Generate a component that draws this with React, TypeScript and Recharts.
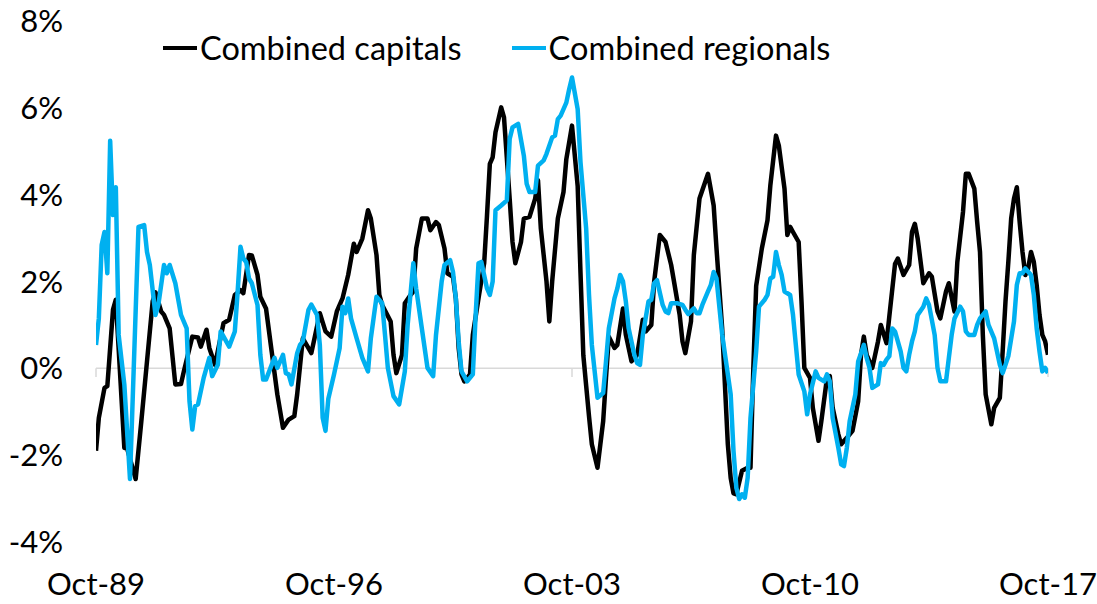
import React from 'react';
import { LineChart, Line, XAxis, YAxis, ReferenceLine } from 'recharts';

const BLACK = '#000000';
const BLUE = '#00B0F0';
const FONT = 'Lato, "Noto Sans", sans-serif';

// month index from Oct-89 (0) to Oct-17 (336), value in %
const CAPITALS: [number, number][] = [
  [0, -1.9], [1, -1.14], [3, -0.45], [4, -0.41], [6, 1.35], [7, 1.58], [10, -1.83], [11, -1.85],
  [14, -2.55], [16, -1.22], [18, 0.16], [20, 1.54], [21, 1.75], [23, 1.31], [24, 1.23], [26, 0.92],
  [28, -0.37], [30, -0.36], [31, -0.07], [34, 0.73], [36, 0.71], [37, 0.5], [39, 0.89], [40, 0.47],
  [42, 0.08], [45, 1.04], [47, 1.12], [49, 1.69], [51, 1.8], [52, 1.73], [54, 2.61], [55, 2.6],
  [57, 2.15], [58, 1.65], [60, 1.38], [62, 0.39], [64, -0.6], [66, -1.37], [68, -1.18], [70, -1.1],
  [71, -0.6], [73, 0.69], [76, 0.35], [79, 1.27], [81, 0.85], [83, 0.73], [85, 1.31], [87, 1.61],
  [89, 2.15], [91, 2.87], [92, 2.68], [94, 2.99], [96, 3.64], [97, 3.45], [99, 2.61], [100, 1.69],
  [101, 1.46], [104, 1.08], [105, 0.31], [106, -0.11], [108, 0.31], [109, 1.5], [111, 1.69], [112, 1.77],
  [113, 2.76], [115, 3.45], [117, 3.45], [118, 3.18], [120, 3.37], [121, 3.3], [123, 2.76], [124, 2.19],
  [126, 2.11], [127, 1.61], [128, 0.47], [129, -0.14], [130, -0.3], [132, -0.14], [133, 0.77], [135, 1.61],
  [137, 2.42], [138, 3.52], [139, 4.71], [140, 4.86], [141, 5.44], [143, 6.01], [144, 5.78], [146, 3.91],
  [147, 2.91], [148, 2.42], [150, 2.91], [151, 3.45], [153, 3.49], [155, 3.91], [156, 4.33], [157, 3.22],
  [159, 2.0], [160, 1.08], [161, 2.0], [163, 3.45], [165, 4.06], [166, 4.82], [168, 5.59], [170, 4.2],
  [171, 2.2], [172, 0.3], [173, -0.4], [174, -1.1], [175, -1.75], [177, -2.29], [179, -1.22], [180, -0.22],
  [181, 0.73], [183, 0.47], [184, 0.54], [186, 1.38], [187, 0.77], [189, 0.16], [191, 0.31], [193, 1.12],
  [194, 0.85], [196, 1.0], [197, 2.0], [199, 3.07], [201, 2.91], [203, 2.38], [204, 2.0], [206, 1.23],
  [207, 0.62], [208, 0.35], [210, 1.08], [211, 2.61], [213, 3.91], [215, 4.29], [216, 4.48], [218, 3.75],
  [219, 2.76], [221, 0.92], [223, -1.75], [224, -2.52], [225, -2.88], [226, -2.9], [228, -2.36], [230, -2.29],
  [231, -2.29], [232, 0.01], [233, 1.9], [235, 2.76], [237, 3.41], [238, 4.21], [240, 5.36], [241, 5.13],
  [243, 4.14], [244, 3.07], [245, 3.26], [246, 3.14], [248, 2.91], [249, 1.54], [250, 0.01], [252, -0.22],
  [253, -0.91], [255, -1.67], [256, -1.22], [258, -0.22], [259, -0.18], [260, -0.91], [262, -1.52], [263, -1.75],
  [265, -1.6], [267, -1.44], [269, -0.76], [270, 0.31], [271, 0.73], [272, 0.31], [274, 0.01], [276, 0.62],
  [277, 1.0], [279, 0.58], [280, 1.2], [282, 2.4], [283, 2.53], [285, 2.15], [287, 2.38], [288, 3.14],
  [289, 3.33], [290, 2.99], [292, 1.96], [294, 2.19], [295, 2.11], [297, 1.31], [298, 1.15], [300, 1.77],
  [301, 1.96], [303, 1.31], [304, 2.45], [306, 3.6], [307, 4.48], [308, 4.48], [310, 4.14], [311, 3.37],
  [312, 2.68], [313, 0.77], [314, -0.6], [316, -1.29], [317, -0.91], [319, -0.68], [320, 0.39], [321, 1.54],
  [322, 2.45], [323, 3.45], [324, 3.91], [325, 4.17], [326, 3.37], [327, 2.68], [328, 2.15], [329, 2.3],
  [330, 2.68], [331, 2.45], [332, 1.92], [333, 1.23], [334, 0.77], [335, 0.62], [336, 0.31],
];

const REGIONALS: [number, number][] = [
  [0, 0.54], [1, 1.15], [2, 2.84], [3, 3.14], [4, 2.19], [5, 5.24], [6, 3.53], [7, 4.17],
  [8, 0.77], [10, -0.37], [12, -2.55], [15, 3.26], [17, 3.3], [18, 2.68], [19, 2.38], [21, 1.23],
  [22, 1.46], [24, 2.38], [25, 2.19], [26, 2.38], [28, 1.96], [30, 1.23], [32, 0.92], [33, -0.76],
  [34, -1.41], [35, -0.87], [36, -0.83], [38, -0.22], [40, 0.24], [41, -0.18], [43, 0.08], [44, 0.85],
  [47, 0.5], [49, 0.85], [50, 1.77], [51, 2.8], [52, 2.53], [53, 2.45], [54, 2.07], [55, 1.96],
  [57, 1.46], [58, 0.31], [59, -0.26], [60, -0.26], [62, 0.08], [63, 0.24], [64, 0.01], [66, 0.31],
  [67, -0.11], [68, -0.14], [69, -0.37], [71, 0.35], [72, 0.54], [73, 0.62], [75, 1.35], [76, 1.47],
  [78, 1.23], [79, 0.54], [80, -1.14], [81, -1.44], [82, -0.7], [84, -0.14], [86, 0.47], [87, 1.42],
  [88, 1.27], [89, 1.61], [90, 1.15], [92, 0.69], [94, 0.24], [96, -0.07], [97, 0.69], [99, 1.65],
  [101, 1.5], [102, 0.77], [103, 0.01], [105, -0.64], [107, -0.83], [109, -0.07], [110, 1.0], [112, 2.42],
  [113, 1.84], [115, 0.92], [117, 0.01], [119, -0.18], [120, 0.77], [122, 2.0], [123, 2.38], [125, 2.49],
  [126, 2.22], [127, 1.61], [128, 0.62], [129, -0.07], [131, -0.3], [133, -0.14], [134, 1.23], [135, 2.42],
  [136, 2.45], [138, 1.84], [139, 1.69], [140, 2.0], [141, 3.64], [143, 3.75], [145, 3.87], [146, 5.28],
  [147, 5.55], [149, 5.63], [151, 4.9], [152, 4.25], [153, 4.06], [155, 4.06], [156, 4.67], [158, 4.79],
  [159, 4.94], [161, 5.32], [162, 5.36], [163, 5.74], [164, 5.82], [166, 6.12], [167, 6.43], [168, 6.7],
  [170, 5.97], [171, 4.75], [173, 3.22], [174, 1.69], [175, 0.54], [176, -0.07], [177, -0.68], [179, -0.57],
  [180, 0.16], [181, 0.92], [183, 1.61], [184, 1.84], [185, 2.15], [186, 2.0], [187, 1.54], [188, 0.92],
  [190, 0.31], [191, 0.12], [192, 0.08], [193, 0.77], [195, 1.54], [196, 1.58], [197, 1.96], [198, 2.03],
  [200, 1.46], [201, 1.31], [202, 1.27], [203, 1.5], [205, 1.5], [207, 1.46], [208, 1.35], [209, 1.25],
  [211, 1.38], [212, 1.27], [213, 1.27], [214, 1.46], [216, 1.77], [217, 1.92], [218, 2.22], [219, 2.07],
  [221, 0.78], [224, -0.6], [225, -1.9], [226, -2.75], [227, -3.01], [228, -2.9], [229, -2.98], [230, -2.52],
  [231, -1.14], [233, 0.39], [234, 1.42], [236, 1.58], [237, 1.69], [238, 2.07], [239, 2.11], [240, 2.68],
  [241, 2.38], [242, 2.15], [243, 1.77], [245, 1.69], [246, 1.23], [247, 0.54], [248, -0.14], [250, -0.53],
  [251, -1.06], [252, -0.6], [254, -0.07], [255, -0.22], [257, -0.3], [258, -0.14], [259, -0.3], [260, -1.14],
  [262, -1.83], [263, -2.21], [264, -2.25], [265, -1.83], [266, -1.22], [268, -0.6], [269, 0.16], [271, 0.54],
  [272, 0.24], [273, 0.01], [274, -0.45], [276, -0.37], [277, 0.12], [278, 0.08], [279, 0.2], [280, 0.28],
  [281, 0.92], [282, 0.85], [284, 0.39], [285, 0.01], [286, -0.07], [287, 0.31], [288, 0.62], [289, 0.85],
  [290, 1.23], [292, 1.42], [293, 1.61], [294, 1.46], [296, 0.77], [297, 0.01], [298, -0.3], [300, -0.3],
  [301, 0.24], [302, 0.77], [303, 1.15], [305, 1.42], [306, 1.31], [307, 0.85], [308, 0.77], [310, 0.77],
  [311, 1.0], [312, 1.15], [314, 1.31], [315, 1.0], [317, 0.69], [318, 0.39], [319, 0.08], [320, -0.11],
  [321, 0.08], [322, 0.28], [324, 1.08], [325, 1.92], [326, 2.19], [327, 2.19], [328, 2.3], [330, 2.15],
  [331, 1.69], [332, 0.92], [333, 0.39], [334, -0.07], [335, 0.01], [336, -0.11],
];

const X_TICKS = [0, 84, 168, 252, 336];
const X_LABELS = ['Oct-89', 'Oct-96', 'Oct-03', 'Oct-10', 'Oct-17'];
const Y_TICKS = [-4, -2, 0, 2, 4, 6, 8];
const AXIS_MARKS = [0, 168, 336];

const SERIES = [
  { name: 'Combined capitals', color: BLACK, data: CAPITALS },
  { name: 'Combined regionals', color: BLUE, data: REGIONALS },
];

const toRows = (pts: [number, number][]) => pts.map(([m, v]) => ({ m, v }));

// legend drawn over the chart so it does not push the plot down
function LegendBox() {
  return (
    <div style={{
      position: 'absolute', top: 32, left: 163, display: 'flex',
      fontFamily: FONT, fontSize: 32.5, color: '#000', lineHeight: 1, whiteSpace: 'nowrap',
    }}>
      {SERIES.map((s, i) => (
        <div key={s.name} style={{ display: 'flex', alignItems: 'center', marginRight: i === 0 ? 50 : 0 }}>
          <span style={{ display: 'inline-block', width: 34, height: 4, background: s.color, marginRight: 3 }} />
          <span>{s.name}</span>
        </div>
      ))}
    </div>
  );
}

export default function App() {
  return (
    <div style={{ position: 'absolute', left: 0, top: 0, width: 1097, height: 604, background: '#fff' }}>
      <LineChart
        width={1097}
        height={604}
        margin={{ top: 21, right: 49, bottom: 0, left: 0 }}
        style={{ fontFamily: FONT, overflow: 'visible' }}
      >
        <XAxis
          dataKey="m"
          type="number"
          domain={[0, 336]}
          ticks={X_TICKS}
          interval={0}
          tickFormatter={(v: number) => X_LABELS[X_TICKS.indexOf(v)]}
          axisLine={false}
          tickLine={false}
          tickSize={0}
          tickMargin={31}
          height={62}
          tick={{ fill: '#000', fontSize: 31 }}
          allowDataOverflow
        />
        <YAxis
          type="number"
          domain={[-4, 8]}
          ticks={Y_TICKS}
          interval={0}
          tickFormatter={(v: number) => `${v}%`}
          axisLine={false}
          tickLine={false}
          tickSize={0}
          tickMargin={33}
          width={96}
          tick={{ fill: '#000', fontSize: 31 }}
        />
        <ReferenceLine y={0} stroke="#D9D9D9" strokeWidth={1.5} />
        {AXIS_MARKS.map((m) => (
          <ReferenceLine key={m} segment={[{ x: m, y: 0 }, { x: m, y: -0.2 }]} stroke="#D9D9D9" strokeWidth={1.5} />
        ))}
        {SERIES.map((s) => (
          <Line
            key={s.name}
            data={toRows(s.data)}
            dataKey="v"
            name={s.name}
            type="linear"
            stroke={s.color}
            strokeWidth={4.5}
            dot={false}
            activeDot={false}
            isAnimationActive={false}
            strokeLinejoin="round"
          />
        ))}
      </LineChart>
      <LegendBox />
    </div>
  );
}
